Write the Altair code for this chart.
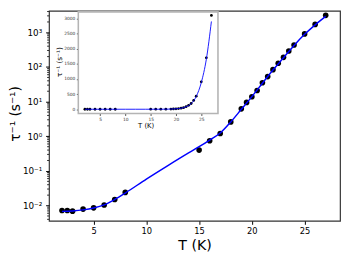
import altair as alt
import pandas as pd

# measured data (T in K, relaxation rate in s^-1)
T = [2, 2.5, 3, 4, 5, 6, 7, 8, 15, 16, 17, 18, 19, 19.5, 20, 20.5, 21, 21.5,
     22, 22.5, 23, 23.5, 24, 25, 26, 27]
rate = [0.0072, 0.0072, 0.0069, 0.0079, 0.0086, 0.0104, 0.015, 0.024, 0.40,
        0.74, 1.2, 2.6, 6.2, 9.5, 13.8, 21, 35, 53, 84, 128, 190, 290, 433,
        905, 1700, 3100]

# fitted curve
T_fit = [2, 3, 4, 5, 6, 7, 8, 10, 12, 14, 15, 16, 17, 18, 19, 20, 21, 22,
         23, 24, 25, 26, 27]
rate_fit = [0.0068, 0.0070, 0.0075, 0.0085, 0.0105, 0.015, 0.023, 0.058,
            0.14, 0.33, 0.50, 0.78, 1.25, 2.6, 6.0, 14, 34, 82, 185, 420,
            880, 1650, 2900]

x_ticks = [5, 10, 15, 20, 25]
y_ticks = [0.01, 0.1, 1, 10, 100, 1000]
y_tick_labels = ["10⁻²", "10⁻¹", "10⁰", "10¹", "10²", "10³"]
y_minor = [0.004, 0.005, 0.006, 0.007, 0.008, 0.009,
           0.02, 0.03, 0.04, 0.05, 0.06, 0.07, 0.08, 0.09,
           0.2, 0.3, 0.4, 0.5, 0.6, 0.7, 0.8, 0.9,
           2, 3, 4, 5, 6, 7, 8, 9,
           20, 30, 40, 50, 60, 70, 80, 90,
           200, 300, 400, 500, 600, 700, 800, 900,
           2000, 3000, 4000]
inset_y_ticks = [0, 500, 1000, 1500, 2000, 2500, 3000]

main_x_domain = [0.77, 28.36]
main_y_domain = [0.00361, 4170]
inset_x_domain = [0.7, 28.3]
inset_y_domain = [-139, 3216]

FONT = "DejaVu Sans"

pts = pd.DataFrame({"T": T, "rate": rate})
fit = pd.DataFrame({"T": T_fit, "rate": rate_fit})
minor = pd.DataFrame({"m": y_minor})
frame = pd.DataFrame({"x0": [inset_x_domain[0]], "x1": [inset_x_domain[1]],
                      "y0": [inset_y_domain[0]], "y1": [inset_y_domain[1]]})

parts = [f"datum.value < {v * 3.1623:g} ? '{l}'"
         for v, l in zip(y_ticks[:-1], y_tick_labels[:-1])]
label_expr = " : ".join(parts) + f" : '{y_tick_labels[-1]}'"

# ---------------- main panel ----------------
x_main = alt.Scale(domain=main_x_domain, nice=False, zero=False)
y_main = alt.Scale(type="log", domain=main_y_domain, nice=False)

ax_x = alt.Axis(values=x_ticks, title="T (K)", grid=False, domain=False,
                tickSize=3.5, tickColor="black", labelFont=FONT,
                labelFontSize=8.5, labelColor="black", labelPadding=2,
                labelFlush=False, labelOverlap=False,
                titleFont=FONT, titleFontSize=14.5, titleFontWeight="normal",
                titleColor="black", titleX=149, titleY=29,
                titleBaseline="alphabetic", titleAlign="center")
ax_y = alt.Axis(values=y_ticks, labelExpr=label_expr, title="τ⁻¹ (s⁻¹)",
                grid=False, domain=False, tickSize=3.5, tickColor="black",
                labelFont=FONT, labelFontSize=9, labelColor="black",
                labelPadding=4, labelFlush=False, labelOverlap=False,
                titleFont=FONT, titleFontSize=14, titleFontWeight="normal",
                titleColor="black", titleX=-30, titleY=105, titleAngle=270,
                titleBaseline="alphabetic", titleAlign="center")

minor_rules = alt.Chart(minor).mark_rule(color="black", strokeWidth=0.8).encode(
    y=alt.Y("m:Q", scale=y_main, axis=ax_y),
    x=alt.value(0), x2=alt.value(-2),
)
main_pts = alt.Chart(pts).mark_circle(size=33, color="black", opacity=1).encode(
    x=alt.X("T:Q", scale=x_main, axis=ax_x),
    y=alt.Y("rate:Q", scale=y_main, axis=ax_y),
)
main_line = alt.Chart(fit).mark_line(color="#0000ff", strokeWidth=1.5,
                                     interpolate="monotone").encode(
    x=alt.X("T:Q", scale=x_main, axis=ax_x),
    y=alt.Y("rate:Q", scale=y_main, axis=ax_y),
)
main = alt.layer(minor_rules, main_pts, main_line)

# ---------------- inset ----------------
x_in = alt.Scale(domain=inset_x_domain, range=[30, 173], nice=False, zero=False)
y_in = alt.Scale(domain=inset_y_domain, range=[105, 1], nice=False, zero=False)

ax_x_in = alt.Axis(values=x_ticks, orient="bottom", offset=-110, title="T (K)",
                   grid=False, domain=False, tickSize=2, tickColor="#444",
                   labelFont=FONT, labelFontSize=4.5, labelColor="#333",
                   labelPadding=1, labelFlush=False, labelOverlap=False,
                   format="d",
                   titleFont=FONT, titleFontSize=7, titleFontWeight="normal",
                   titleColor="black", titleX=99, titleY=14.5,
                   titleBaseline="alphabetic", titleAlign="center")
ax_y_in = alt.Axis(values=inset_y_ticks, orient="left", offset=-30,
                   title="τ⁻¹ (s⁻¹)", grid=False, domain=False, tickSize=2,
                   tickColor="#444", labelFont=FONT, labelFontSize=4.5,
                   labelColor="#333", labelPadding=1.5, labelFlush=False,
                   labelOverlap=False, format="d", titleFont=FONT,
                   titleFontSize=7.5, titleFontWeight="normal",
                   titleColor="black", titleX=-17, titleY=52,
                   titleAngle=270, titleBaseline="alphabetic",
                   titleAlign="center")

inset_frame = alt.Chart(frame).mark_rect(fill="white", stroke="#b4b4b4",
                                         strokeWidth=1.6).encode(
    x=alt.X("x0:Q", scale=x_in, axis=ax_x_in), x2="x1:Q",
    y=alt.Y("y0:Q", scale=y_in, axis=ax_y_in), y2="y1:Q",
)
inset_pts = alt.Chart(pts).mark_circle(size=8, color="black", opacity=1).encode(
    x=alt.X("T:Q", scale=x_in, axis=ax_x_in),
    y=alt.Y("rate:Q", scale=y_in, axis=ax_y_in),
)
inset_line = alt.Chart(fit).mark_line(color="#0000ff", strokeWidth=0.9,
                                      interpolate="monotone").encode(
    x=alt.X("T:Q", scale=x_in, axis=ax_x_in),
    y=alt.Y("rate:Q", scale=y_in, axis=ax_y_in),
)
inset = alt.layer(inset_frame, inset_pts, inset_line)

chart = alt.layer(main, inset).resolve_scale(
    x="independent", y="independent"
).properties(
    width=298, height=215, autosize="none",
    padding={"left": 42, "top": 0, "right": 2, "bottom": 34},
    background="white",
).configure_view(stroke="#333333", strokeWidth=1.2)

chart.save("out.html", embed_options={"renderer": "svg", "actions": False})
